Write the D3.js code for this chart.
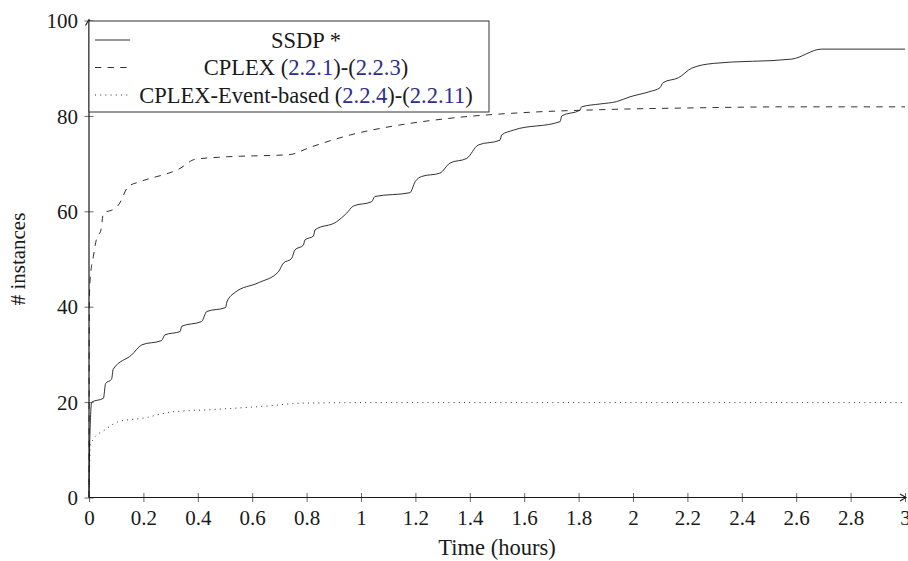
<!DOCTYPE html>
<html><head><meta charset="utf-8">
<script src="https://cdn.jsdelivr.net/npm/d3@7"></script>
<style>
body{margin:0;background:#fff}
svg{display:block}
text{font-family:"Liberation Serif","Times New Roman",serif;fill:#1a1a1a}
</style>
</head><body>
<svg id="c" width="908" height="561"></svg>
<script>
// ---- data ----
const xTicks = [0,0.2,0.4,0.6,0.8,1,1.2,1.4,1.6,1.8,2,2.2,2.4,2.6,2.8,3];
const xTickLabels = ["0","0.2","0.4","0.6","0.8","1","1.2","1.4","1.6","1.8","2","2.2","2.4","2.6","2.8","3"];
const yTicks = [0,20,40,60,80,100];
const yTickLabels = ["0","20","40","60","80","100"];

const ssdpPoints = [
  [0,0],[0.002,10],[0.01,20],[0.053,20.8],[0.061,23.9],[0.083,24.8],[0.089,26.9],
  [0.157,29.9],[0.194,32.0],[0.267,32.9],[0.279,34.1],[0.335,34.8],[0.341,35.9],
  [0.414,36.9],[0.433,39.0],[0.502,39.8],[0.507,41.0],[0.537,43.0],[0.622,45.0],
  [0.696,47.3],[0.714,49.1],[0.745,50.1],[0.757,51.9],[0.788,52.9],[0.794,54.0],
  [0.825,54.8],[0.831,56.1],[0.91,57.8],[0.947,59.6],[0.972,61.1],[1.039,62.0],
  [1.051,63.1],[1.18,63.9],[1.199,66.2],[1.223,67.3],[1.29,68.0],[1.327,70.1],
  [1.389,71.1],[1.431,73.9],[1.511,74.9],[1.517,76.0],[1.56,77.0],[1.732,78.8],
  [1.738,80.0],[1.805,81.2],[1.811,81.9],[1.879,82.5],[1.94,83.0],[1.989,84.0],
  [2.062,85.1],[2.099,85.9],[2.111,87.0],[2.167,88.0],[2.216,90.0],[2.295,91.0],
  [2.583,91.9],[2.694,94.0],[3,94.0]
];
const cplexPoints = [
  [0,0],[0.001,40],[0.004,45.6],[0.016,50.5],[0.028,54.3],[0.044,56.1],[0.053,59.6],
  [0.089,60.4],[0.108,61.3],[0.145,65.2],[0.1875,66.2],[0.335,69.0],[0.39,70.9],
  [0.5,71.4],[0.739,71.9],[0.8125,73.4],[0.96,76.0],[1.143,78.1],[1.327,79.5],
  [1.634,80.8],[1.879,81.3],[2.246,81.7],[2.565,81.9],[3,81.9]
];
const eventPoints = [
  [0,0],[0.005,11],[0.016,12.2],[0.059,14.2],[0.108,15.9],[0.206,16.7],[0.3,17.9],
  [0.475,18.5],[0.659,19.2],[0.79,19.8],[1.08,19.9],[3,19.9]
];
const seriesNames = ["SSDP *","CPLEX","CPLEX-Event-based"];
const seriesRefs = [null,["2.2.1","2.2.3"],["2.2.4","2.2.11"]];

// ---- chart ----
const svg = d3.select("#c");
const x = d3.scaleLinear().domain([0,3]).range([89,905]);
const y = d3.scaleLinear().domain([0,100]).range([497.5,20.5]);
const FS = 21;
const FS2 = 22.5;
const INK = "#1a1a1a";

const line = d3.line().x(d=>x(d[0])).y(d=>y(d[1])).curve(d3.curveMonotoneX);
const styles = [
  {dash:null},
  {dash:"6.3,6.3"},
  {dash:"1,4.2"}
];
const allSeries = [ssdpPoints, cplexPoints, eventPoints];

allSeries.forEach((pts,i)=>{
  svg.append("path").datum(pts).attr("d",line)
    .attr("fill","none").attr("stroke",INK).attr("stroke-width",0.9)
    .attr("stroke-dasharray",styles[i].dash);
});

// x axis
const xAxis = d3.axisBottom(x).tickValues(xTicks).tickFormat((d,i)=>xTickLabels[i]).tickSize(0).tickPadding(0);
const gx = svg.append("g").attr("transform",`translate(0,${y(0)})`).call(xAxis);
gx.select(".domain").remove();
gx.selectAll(".tick line").attr("y1",-4.5).attr("y2",4.5).attr("stroke","#444").attr("stroke-width",0.8);
gx.selectAll(".tick text").attr("y",27).attr("dy",null).attr("font-size",FS)
  .attr("font-family",'"Liberation Serif",serif').attr("fill",INK);

// y axis
const yAxis = d3.axisLeft(y).tickValues(yTicks).tickFormat((d,i)=>yTickLabels[i]).tickSize(0).tickPadding(0);
const gy = svg.append("g").attr("transform",`translate(${x(0)},0)`).call(yAxis);
gy.select(".domain").remove();
gy.selectAll(".tick line").attr("x1",-4.5).attr("x2",4.5).attr("stroke","#444").attr("stroke-width",0.8);
gy.selectAll(".tick text").attr("x",-11).attr("dy","0.34em").attr("font-size",FS)
  .attr("font-family",'"Liberation Serif",serif').attr("fill",INK);

// axis lines with arrows
svg.append("line").attr("x1",x(0)).attr("x2",x(3)).attr("y1",y(0)).attr("y2",y(0))
  .attr("stroke",INK).attr("stroke-width",1.2);
svg.append("line").attr("x1",x(0)).attr("x2",x(0)).attr("y1",y(0)).attr("y2",y(100))
  .attr("stroke",INK).attr("stroke-width",1.2);
svg.append("path").attr("d",`M${x(3)-5},${y(0)-3.5} L${x(3)+1},${y(0)} L${x(3)-5},${y(0)+3.5}`)
  .attr("fill","none").attr("stroke",INK).attr("stroke-width",1.1);
svg.append("path").attr("d",`M${x(0)-3.5},${y(100)+5} L${x(0)},${y(100)-1} L${x(0)+3.5},${y(100)+5}`)
  .attr("fill","none").attr("stroke",INK).attr("stroke-width",1.1);

// axis titles
svg.append("text").attr("x",(x(0)+x(3))/2).attr("y",555).attr("text-anchor","middle")
  .attr("font-size",FS2).text("Time (hours)");
svg.append("text").attr("transform",`translate(25,${(y(0)+y(100))/2}) rotate(-90)`)
  .attr("text-anchor","middle").attr("font-size",FS).text("# instances");

// legend
const lg = svg.append("g");
lg.append("rect").attr("x",x(0)).attr("y",21).attr("width",400).attr("height",91)
  .attr("fill","#fff").attr("stroke","#333").attr("stroke-width",1);
const rowY = [40,67.5,95];
const LINK = "#2e2e8c";
seriesNames.forEach((nm,i)=>{
  lg.append("line").attr("x1",95).attr("x2",130).attr("y1",rowY[i]).attr("y2",rowY[i])
    .attr("stroke",INK).attr("stroke-width",0.9).attr("stroke-dasharray",styles[i].dash);
  const t = lg.append("text").attr("x",306).attr("y",rowY[i]+7.5).attr("text-anchor","middle").attr("font-size",FS2);
  t.append("tspan").text(nm);
  const r = seriesRefs[i];
  if (r) {
    t.append("tspan").text(" (");
    t.append("tspan").attr("fill",LINK).text(r[0]);
    t.append("tspan").text(")-(");
    t.append("tspan").attr("fill",LINK).text(r[1]);
    t.append("tspan").text(")");
  }
});
</script>
</body></html>
